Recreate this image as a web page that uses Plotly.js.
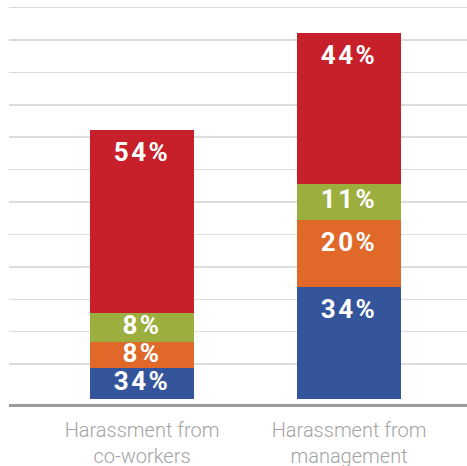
<!DOCTYPE html>
<html>
<head>
<meta charset="utf-8">
<script src="https://cdn.plot.ly/plotly-3.0.1.min.js"></script>
<style>
  html, body { margin: 0; padding: 0; background: #fff; }
  #chart { width: 467px; height: 466px; }
  .scatterlayer .textpoint text { letter-spacing: 2.5px; }
</style>
</head>
<body>
<div id="chart"></div>
<script>
// Categories
const categories = ["Harassment from<br>co-workers", "Harassment from<br>management"];
// Drawn segment heights (stack order bottom -> top)
const blueValues   = [9.5, 34.5];
const orangeValues = [8.0, 20.7];
const greenValues  = [9.0, 11.1];
const redValues    = [56.5, 46.6];
// Labels printed on the segments
const blueLabels   = ["34%", "34%"];
const orangeLabels = ["8%", "20%"];
const greenLabels  = ["8%", "11%"];
const redLabels    = ["54%", "44%"];

const colors = { blue: "#34559c", orange: "#e0692a", green: "#9cae3e", red: "#c8202a" };

const series = [
  { v: blueValues, t: blueLabels, c: colors.blue },
  { v: orangeValues, t: orangeLabels, c: colors.orange },
  { v: greenValues, t: greenLabels, c: colors.green },
  { v: redValues, t: redLabels, c: colors.red }
];

const traces = [];
const cum = categories.map(() => 0);
const lx = [], ly = [], lt = [];
series.forEach(s => {
  traces.push({
    type: "bar", x: categories, y: s.v, width: 0.5,
    marker: { color: s.c, line: { width: 0 } },
    hoverinfo: "skip", showlegend: false
  });
  s.v.forEach((v, i) => {
    const top = cum[i] + v;
    lx.push(categories[i]);
    ly.push(top - Math.min(7.6, v / 2));
    lt.push(s.t[i]);
    cum[i] = top;
  });
});
traces.push({
  type: "scatter", mode: "text", x: lx, y: ly, text: lt,
  textposition: "middle center",
  textfont: { family: "Roboto, 'DejaVu Sans', sans-serif", size: 26, color: "#ffffff", weight: 700 },
  hoverinfo: "skip", showlegend: false, cliponaxis: false
});

const gridVals = Array.from({ length: 12 }, (_, i) => 10.7 + 10 * i);

const layout = {
  width: 467, height: 466,
  margin: { l: 9, r: 0, t: 5, b: 62 },
  paper_bgcolor: "#ffffff", plot_bgcolor: "#ffffff",
  barmode: "stack",
  xaxis: {
    type: "category", range: [-0.6425, 1.57],
    showline: true, linecolor: "#9a9a9a", linewidth: 2.5,
    showgrid: false, zeroline: false, ticks: "",
    ticklabelstandoff: 6,
    tickfont: { family: "Roboto, 'DejaVu Sans', sans-serif", size: 20, color: "#a3a3a3", weight: 300 },
    fixedrange: true
  },
  yaxis: {
    range: [-1.6, 121.5],
    tickmode: "array", tickvals: gridVals,
    showticklabels: false, ticks: "",
    showgrid: true, gridcolor: "#dcdcdc", gridwidth: 1.5,
    zeroline: false, showline: false, fixedrange: true
  },
  showlegend: false
};

Plotly.newPlot("chart", traces, layout, { displayModeBar: false, staticPlot: true });
</script>
</body>
</html>
